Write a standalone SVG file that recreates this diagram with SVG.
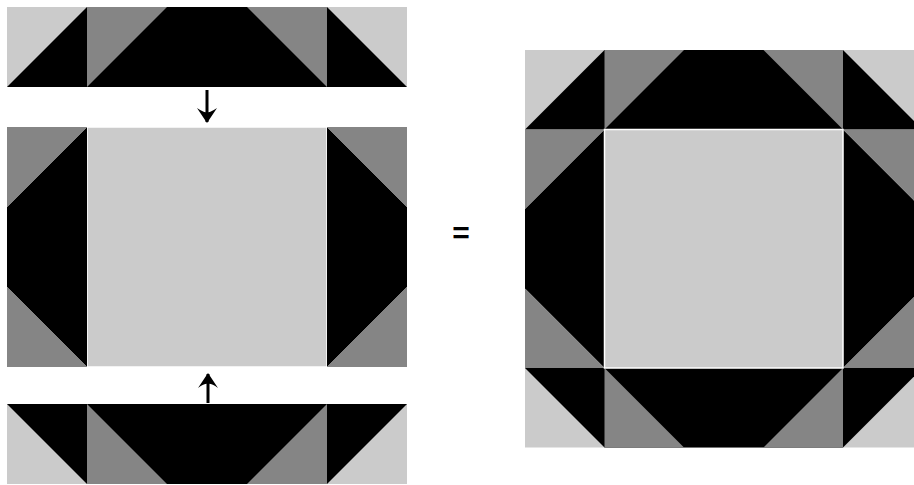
<svg xmlns="http://www.w3.org/2000/svg" width="914" height="485" viewBox="0 0 914 485">
<style>
.lt{fill:#cbcbcb}
.gr{fill:#858585}
.bk{fill:#000}
.ctr{fill:#cbcbcb;stroke:#fff;stroke-width:1.5}
.arr{stroke:#000;stroke-width:3;fill:none}
.eq{font-family:"Liberation Sans",Arial,sans-serif;font-weight:bold;font-size:30px;fill:#000}
</style>
<defs>
<marker id="head" markerUnits="userSpaceOnUse" markerWidth="20" markerHeight="22" viewBox="-16 -11 18 22" refX="0" refY="0" orient="auto">
<path d="M1,0 L-14,-10 Q-9,-3 -10,0 Q-9,3 -14,10 Z" fill="#000"/>
</marker>
</defs>
<rect width="914" height="485" fill="#fff"/>
<g id="left-top-strip">
<rect class="lt" x="7" y="7" width="400" height="80"/>
<polygon class="bk" points="7,87 87,7 327,7 407,87"/>
<polygon class="gr" points="87,7 167,7 87,87"/>
<polygon class="gr" points="247,7 327,7 327,87"/>
</g>
<g id="left-middle-block">
<rect class="ctr" x="87" y="127" width="240" height="240"/>
<polygon class="bk" points="87,127 87,367 7,287 7,207"/>
<polygon class="gr" points="7,127 87,127 7,207"/>
<polygon class="gr" points="7,287 87,367 7,367"/>
<polygon class="bk" points="327,127 407,207 407,287 327,367"/>
<polygon class="gr" points="327,127 407,127 407,207"/>
<polygon class="gr" points="407,287 407,367 327,367"/>
</g>
<g id="left-bottom-strip">
<rect class="lt" x="7" y="404" width="400" height="80"/>
<polygon class="bk" points="7,404 407,404 327,484 87,484"/>
<polygon class="gr" points="87,404 167,484 87,484"/>
<polygon class="gr" points="327,404 327,484 247,484"/>
</g>
<g id="equals">
<text class="eq" x="461" y="243" text-anchor="middle">=</text>
</g>
<g id="right-block">
<rect class="lt" x="525" y="50" width="397.5" height="397.5"/>
<polygon class="bk" points="525,129.5 604.5,50 843,50 922.5,129.5"/>
<polygon class="gr" points="604.5,50 684,50 604.5,129.5"/>
<polygon class="gr" points="763.5,50 843,50 843,129.5"/>
<polygon class="bk" points="604.5,129.5 604.5,368 525,288.5 525,209"/>
<polygon class="gr" points="525,129.5 604.5,129.5 525,209"/>
<polygon class="gr" points="525,288.5 604.5,368 525,368"/>
<polygon class="bk" points="843,129.5 922.5,209 922.5,288.5 843,368"/>
<polygon class="gr" points="843,129.5 922.5,129.5 922.5,209"/>
<polygon class="gr" points="922.5,288.5 922.5,368 843,368"/>
<polygon class="bk" points="525,368 922.5,368 843,447.5 604.5,447.5"/>
<polygon class="gr" points="604.5,368 684,447.5 604.5,447.5"/>
<polygon class="gr" points="843,368 843,447.5 763.5,447.5"/>
<rect class="ctr" x="604.5" y="129.5" width="238.5" height="238.5"/>
</g>
<g id="connectors">
<path class="arr" d="M207,90 L207,122" marker-end="url(#head)"/>
<path class="arr" d="M208,403 L208,374" marker-end="url(#head)"/>
</g>
</svg>
